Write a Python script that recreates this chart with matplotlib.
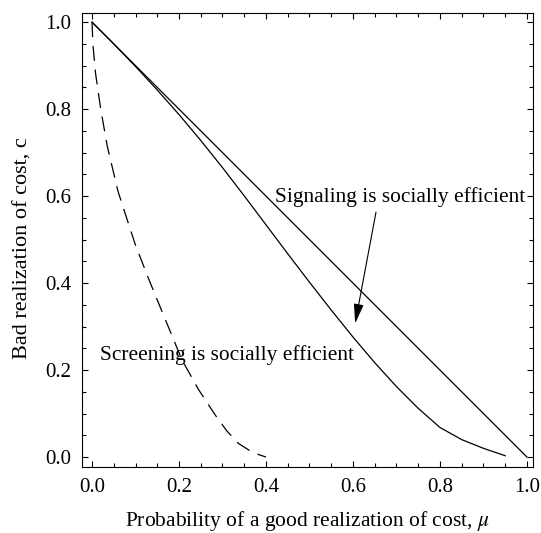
import matplotlib
matplotlib.use("Agg")
import matplotlib.pyplot as plt
from matplotlib.ticker import MultipleLocator

plt.rcParams['font.family'] = ['Liberation Serif', 'DejaVu Serif']
plt.rcParams['mathtext.fontset'] = 'stix'

# signaling boundary (straight line)
mu_line = [0.0, 1.0]
c_line = [1.0, 0.0]

# solid curved boundary
mu_solid = [0.0, 0.05, 0.1, 0.15, 0.2, 0.25, 0.3, 0.35, 0.4, 0.45, 0.5, 0.55,
            0.6, 0.65, 0.7, 0.75, 0.8, 0.85, 0.9, 0.95]
c_solid = [1.0, 0.95, 0.898, 0.844, 0.7875, 0.728, 0.6655, 0.6005, 0.534, 0.4675,
           0.402, 0.338, 0.276, 0.217, 0.162, 0.112, 0.068, 0.040, 0.020, 0.003]

# dashed curve
mu_dash = [0.0, 0.002, 0.008, 0.02, 0.035, 0.06, 0.099, 0.13, 0.169, 0.207, 0.245,
           0.283, 0.31, 0.337, 0.37, 0.4]
c_dash = [1.0, 0.95, 0.883, 0.80, 0.715, 0.61, 0.49, 0.41, 0.315, 0.223, 0.155,
          0.097, 0.060, 0.031, 0.010, 0.0]

fig = plt.figure(figsize=(5.41, 5.33), dpi=100)
ax = fig.add_axes([0.1516, 0.1238, 0.8336, 0.8518])

ax.plot(mu_line, c_line, color='black', lw=0.9)
ax.plot(mu_solid, c_solid, color='black', lw=0.9)
ax.plot(mu_dash, c_dash, color='black', lw=0.9, dashes=(12, 7))

ax.set_xlim(-0.023, 1.014)
ax.set_ylim(-0.023, 1.021)

ax.xaxis.set_major_locator(MultipleLocator(0.2))
ax.xaxis.set_minor_locator(MultipleLocator(0.05))
ax.yaxis.set_major_locator(MultipleLocator(0.2))
ax.yaxis.set_minor_locator(MultipleLocator(0.05))
ax.tick_params(which='both', direction='in', top=True, right=True, width=0.8)
ax.tick_params(which='major', length=4.5, labelsize=15, pad=8)
ax.tick_params(which='minor', length=2.8)
ax.xaxis.set_major_formatter(plt.FormatStrFormatter('%.1f'))
ax.yaxis.set_major_formatter(plt.FormatStrFormatter('%.1f'))
for s in ax.spines.values():
    s.set_linewidth(0.8)

ax.set_xlabel(r'Probability of a good realization of cost, $\mu$', fontsize=15.5, va='top')
ax.xaxis.set_label_coords(0.5, -0.093)
ax.set_ylabel('Bad realization of cost, c', fontsize=16, va='center')
ax.yaxis.set_label_coords(-0.131, 0.482)

ax.text(0.421, 0.598, 'Signaling is socially efficient', fontsize=15.4, va='center', ha='left')
ax.annotate('', xy=(0.605, 0.307), xytext=(0.653, 0.563),
            arrowprops=dict(arrowstyle='-|>,head_length=1.0,head_width=0.25',
                            color='black', lw=0.8, mutation_scale=12,
                            shrinkA=0, shrinkB=0))
ax.text(0.018, 0.234, 'Screening is socially efficient', fontsize=15.4, va='center', ha='left')

fig.savefig('out.png', dpi=100)
